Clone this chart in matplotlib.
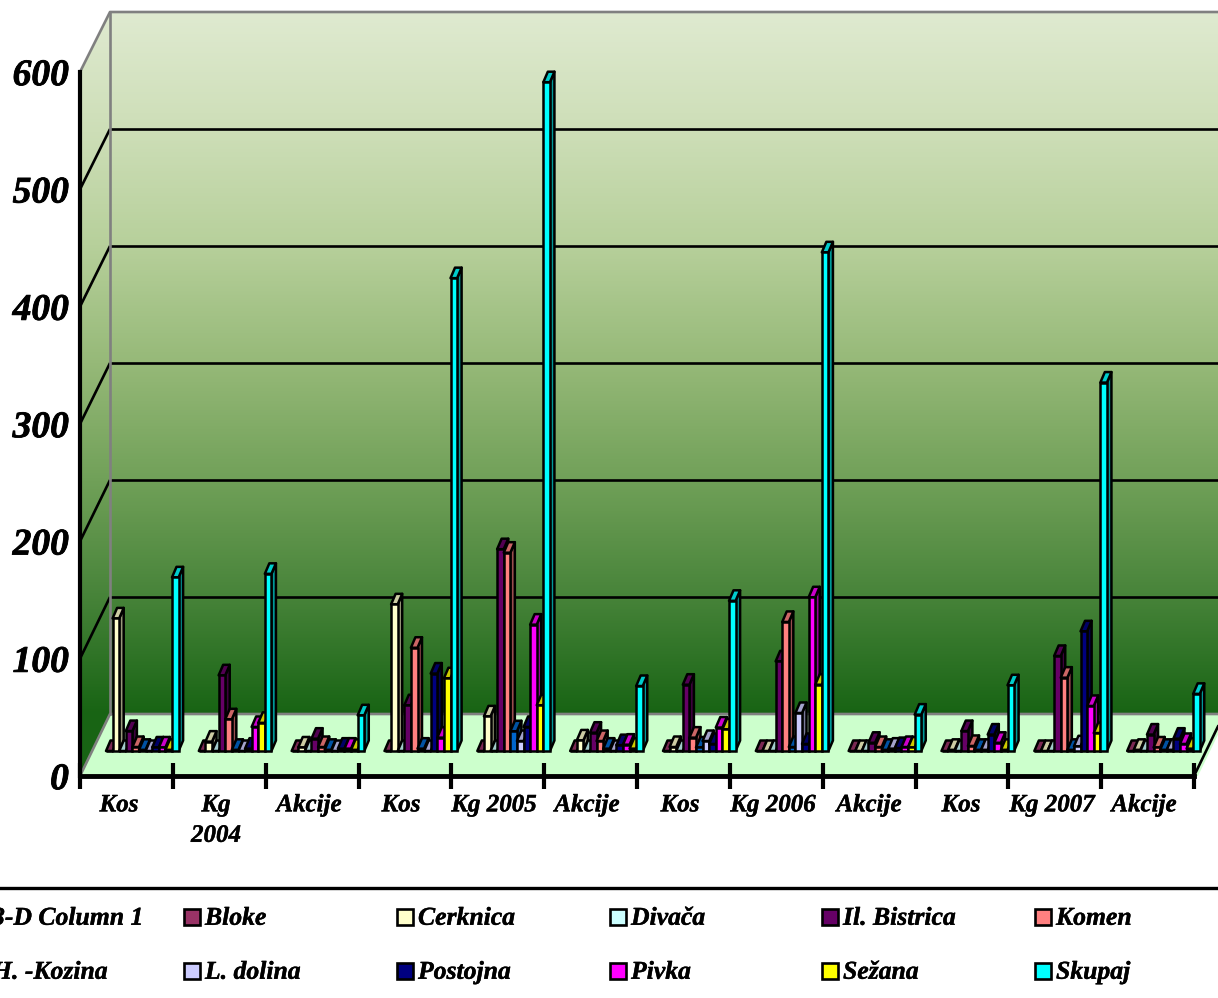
# 3-D style column chart, drawn by hand on a flat axes

import numpy as np
import matplotlib
matplotlib.use("Agg")
import matplotlib.pyplot as plt
import matplotlib.patheffects as pe
from matplotlib.colors import LinearSegmentedColormap, to_rgb
from matplotlib.lines import Line2D
from matplotlib.patches import Polygon, Rectangle

W, H = 1218, 998
plt.rcParams["font.family"] = ["Liberation Serif", "DejaVu Serif"]
plt.rcParams["font.weight"] = "bold"
plt.rcParams["font.style"] = "italic"
plt.rcParams["text.hinting"] = "no_hinting"

categories = ["Kos", "Kg\n2004", "Akcije", "Kos", "Kg 2005", "Akcije",
              "Kos", "Kg 2006", "Akcije", "Kos", "Kg 2007", "Akcije"]
yticks = [0, 100, 200, 300, 400, 500, 600]

series_names = ["Bloke", "Cerknica", "Divača", "Il. Bistrica", "Komen", "H. -Kozina",
                "L. dolina", "Postojna", "Pivka", "Sežana", "Skupaj"]
series_colors = ["#993366", "#FFFFCC", "#CCFFFF", "#660066", "#FF8080", "#0066CC",
                 "#CCCCFF", "#000080", "#FF00FF", "#FFFF00", "#00FFFF"]

bloke    = [0, 0, 0, 0, 0, 0, 0, 0, 0, 0, 0, 0]
cerknica = [113, 8, 3, 125, 29.5, 9, 3.4, 0, 0, 1, 0, 1]
divaca   = [0, 0, 0, 0, 0, 0, 0, 0, 0, 0, 0, 0]
bistrica = [17, 64.5, 10.5, 39, 172, 15.6, 56.5, 76.4, 7, 17, 81, 14]
komen    = [3.4, 27, 3.4, 88, 169, 8.5, 11.4, 110, 3.4, 4.3, 62.5, 3]
kozina   = [1, 1, 1, 2, 16.8, 2, 3, 3.4, 1, 1, 1, 1]
dolina   = [0, 0, 0, 0, 8.5, 0, 8.5, 32.4, 2, 1, 4, 1]
postojna = [3, 2, 2, 66, 20.5, 5, 6, 6, 2.5, 14, 102, 10.5]
pivka    = [3, 20.5, 2, 11.4, 107.7, 5.4, 20, 131, 3.4, 7, 38.4, 6]
sezana   = [1, 24, 1, 62, 39, 2, 18.5, 56.5, 3, 1, 15.3, 2]
skupaj   = [148, 151, 30.4, 403, 570, 55.4, 128, 425, 31, 56, 314, 48.7]
series_values = [bloke, cerknica, divaca, bistrica, komen, kozina,
                 dolina, postojna, pivka, sezana, skupaj]

legend_rows = [["3-D Column 1", "Bloke", "Cerknica", "Divača", "Il. Bistrica", "Komen"],
               ["H. -Kozina", "L. dolina", "Postojna", "Pivka", "Sežana", "Skupaj"]]

# pixel layout of the plot box
X0, X1, Y0, Y600 = 80, 1194, 776, 72
WALL_X, WALL_Y, TOP_Y = 110, 714, 12
px_x = (X1 - X0) / 12
px_y = (Y0 - Y600) / 600

label_px = [119, 216, 309, 401, 494, 587, 680, 773, 869, 961, 1052, 1144]

fig = plt.figure(figsize=(W / 100, H / 100), dpi=100, facecolor="white")


def fx(x):
    return x / W


def fy(y):
    return 1 - y / H


# background: walls and floor in pixel coordinates
bg = fig.add_axes([0, 0, 1, 1])
bg.set_xlim(0, W)
bg.set_ylim(H, 0)
bg.axis("off")

wall_cmap = LinearSegmentedColormap.from_list("wall", [
    (0.00, (223/255, 234/255, 208/255)),
    (0.17, (205/255, 222/255, 183/255)),
    (0.33, (183/255, 208/255, 155/255)),
    (0.50, (150/255, 185/255, 120/255)),
    (0.67, (112/255, 160/255, 88/255)),
    (0.83, (72/255, 132/255, 58/255)),
    (1.00, (24/255, 100/255, 20/255)),
])
grad = np.linspace(0, 1, 512).reshape(-1, 1)
im = bg.imshow(grad, cmap=wall_cmap, aspect="auto", extent=[X0, W, WALL_Y, TOP_Y], zorder=1)
clip = Polygon([(X0, Y600), (WALL_X, TOP_Y), (W, TOP_Y), (W, WALL_Y), (WALL_X, WALL_Y), (X0, Y0)],
               closed=True, transform=bg.transData, facecolor="none", edgecolor="none")
bg.add_patch(clip)
im.set_clip_path(clip)
# left wall keeps running a little lower than the back wall
im2 = bg.imshow(np.array([[1.0]]), cmap=wall_cmap, vmin=0, vmax=1, aspect="auto",
                extent=[X0, WALL_X, Y0, WALL_Y], zorder=1)
clip2 = Polygon([(X0, WALL_Y), (WALL_X, WALL_Y), (X0, Y0)], closed=True,
                transform=bg.transData, facecolor="none", edgecolor="none")
bg.add_patch(clip2)
im2.set_clip_path(clip2)
bg.set_xlim(0, W)
bg.set_ylim(H, 0)

depth_x = WALL_X - X0
depth_y = Y0 - WALL_Y
floor_right = W + 10
bg.add_patch(Polygon([(X0, Y0), (WALL_X, WALL_Y), (floor_right, WALL_Y), (floor_right - depth_x, Y0)],
                     closed=True, facecolor="#CCFFCC", edgecolor="none", zorder=2))

back_scale = (WALL_Y - TOP_Y) / 600
for v in yticks[1:-1]:
    yf = Y0 - v * px_y
    yb = WALL_Y - v * back_scale
    bg.plot([X0, WALL_X], [yf, yb], color="black", lw=1.9, zorder=3, solid_capstyle="butt")
    bg.plot([WALL_X, W], [yb, yb], color="black", lw=1.9, zorder=3, solid_capstyle="butt")

gray = "#808080"
bg.plot([X0, WALL_X, W], [Y600, TOP_Y, TOP_Y], color=gray, lw=1.9, zorder=3)
bg.plot([WALL_X, WALL_X], [TOP_Y, WALL_Y], color=gray, lw=1.9, zorder=3)
bg.plot([X0, WALL_X, W], [Y0, WALL_Y, WALL_Y], color=gray, lw=1.9, zorder=3)
bg.plot([X1, W], [Y0, Y0 - (W - X1) * depth_y / depth_x], color="black", lw=1.9, zorder=3)

# main axes: categories on x, values on y
ax = fig.add_axes([fx(X0), fy(Y0), (X1 - X0) / W, (Y0 - Y600) / H])
ax.patch.set_alpha(0)
ax.set_xlim(0, 12)
ax.set_ylim(0, 600)
for s in ["top", "right"]:
    ax.spines[s].set_visible(False)
ax.spines["left"].set_linewidth(3)
ax.spines["bottom"].set_linewidth(3.5)
ax.set_xticks(range(13))
ax.set_xticklabels([])
ax.tick_params(axis="x", direction="inout", length=19, width=3)
ax.set_yticks(yticks)
ax.tick_params(axis="y", length=0, pad=8, labelsize=27)
heavy = [pe.withStroke(linewidth=0.6, foreground="black")]
for t in ax.get_yticklabels():
    t.set_fontstyle("italic")
    t.set_fontweight("bold")
    t.set_path_effects(heavy)

base = 25 / px_y
bar_w = 6.6 / px_x
bar_start = 26 / px_x
dx = 4.5 / px_x
dy = 10.5 / px_y
lw_bar = 1.8
groups = np.arange(len(categories))

for i, (vals, col) in enumerate(zip(series_values, series_colors)):
    rgb = np.array(to_rgb(col))
    lefts = groups + bar_start + i * bar_w
    for x, v in zip(lefts, vals):
        t = base + v
        ax.add_patch(Polygon([(x + bar_w, base), (x + bar_w + dx, base + dy),
                              (x + bar_w + dx, t + dy), (x + bar_w, t)],
                             closed=True, facecolor=rgb * 0.6, edgecolor="black",
                             lw=lw_bar, joinstyle="round", clip_on=False))
        ax.add_patch(Polygon([(x, t), (x + dx, t + dy), (x + bar_w + dx, t + dy), (x + bar_w, t)],
                             closed=True, facecolor=rgb * 0.8, edgecolor="black",
                             lw=lw_bar, joinstyle="round", clip_on=False))
    ax.bar(lefts, vals, width=bar_w, bottom=base, align="edge", color=col,
           edgecolor="black", linewidth=lw_bar, clip_on=False)

for x, lab in zip(label_px, categories):
    fig.text(fx(x), fy(794), lab, ha="center", va="top", fontsize=18, linespacing=1.45,
             path_effects=[pe.withStroke(linewidth=0.3, foreground="black")])

# legend strip
fig.add_artist(Line2D([0, 1], [fy(888), fy(888)], color="black", lw=2.4))
swatch = dict(zip(series_names, series_colors))
col_px = [-29, 184, 397, 610, 822, 1035]
row_px = [917, 971]
for names, yr in zip(legend_rows, row_px):
    for name, xc in zip(names, col_px):
        if name in swatch and xc > 0:
            fig.add_artist(Rectangle((fx(xc), fy(yr + 8)), 16 / W, 16 / H, transform=fig.transFigure,
                                     facecolor=swatch[name], edgecolor="black", lw=1.9))
        fig.text(fx(xc + 21), fy(yr + 1.5), name, ha="left", va="center", fontsize=18.5,
                 path_effects=[pe.withStroke(linewidth=0.3, foreground="black")])

fig.savefig("out.png", dpi=100, facecolor="white")
